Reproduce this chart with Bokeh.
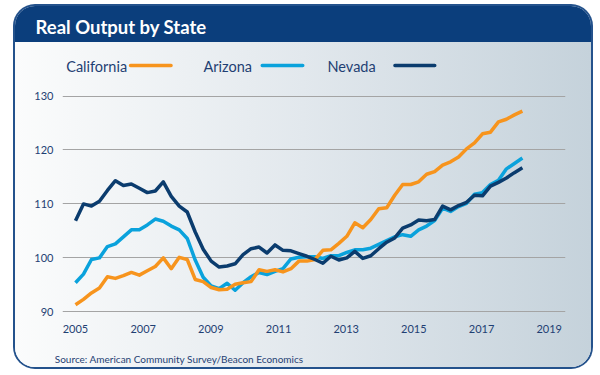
import numpy as np
from bokeh.plotting import figure
from bokeh.models import Label, BoxAnnotation, FixedTicker, Range1d, Title
from bokeh.embed import file_html
from bokeh.resources import INLINE

# ---- data (quarterly index, 2005 Q1 onward) ----
series_names = ["California", "Arizona", "Nevada"]
california = [91.3, 92.3, 93.5, 94.4, 96.5, 96.2, 96.7, 97.3, 96.8, 97.6,
              98.4, 100.0, 98.0, 100.1, 99.7, 96.0, 95.6, 94.5, 94.1, 94.2,
              95.1, 95.4, 95.6, 97.8, 97.5, 97.8, 97.4, 98.0, 99.4, 99.4,
              99.7, 101.4, 101.5, 102.7, 104.0, 106.5, 105.6, 107.1, 109.1, 109.3,
              111.6, 113.6, 113.6, 114.1, 115.5, 116.0, 117.2, 117.8, 118.7, 120.2,
              121.3, 123.0, 123.3, 125.2, 125.7, 126.5, 127.2]
arizona = [95.4, 97.0, 99.7, 100.0, 102.1, 102.6, 103.9, 105.2, 105.2, 106.1,
           107.2, 106.8, 105.9, 105.2, 103.6, 99.6, 96.4, 94.8, 94.3, 95.3,
           94.0, 95.4, 96.5, 97.3, 96.9, 97.5, 98.0, 99.8, 100.1, 100.2,
           100.2, 99.9, 100.4, 100.4, 101.0, 101.5, 101.5, 101.8, 102.5, 103.2,
           103.9, 104.3, 104.0, 105.2, 105.9, 106.9, 109.2, 108.6, 109.5, 110.1,
           111.8, 112.1, 113.6, 114.4, 116.5, 117.5, 118.5]
nevada = [106.9, 110.0, 109.6, 110.5, 112.5, 114.3, 113.4, 113.7, 112.9, 112.1,
          112.4, 114.1, 111.4, 109.6, 108.5, 104.8, 101.6, 99.4, 98.3, 98.5,
          98.9, 100.6, 101.7, 102.0, 100.9, 102.4, 101.4, 101.3, 100.8, 100.3,
          99.7, 99.0, 100.3, 99.6, 100.0, 101.2, 99.9, 100.4, 101.7, 102.9,
          103.7, 105.5, 106.1, 107.0, 106.9, 107.1, 109.6, 108.9, 109.7, 110.3,
          111.6, 111.5, 113.3, 114.0, 114.8, 115.8, 116.7]
year_labels = ["2005", "2007", "2009", "2011", "2013", "2015", "2017", "2019"]
y_ticks = [90, 100, 110, 120, 130]

# ---- styling ----
NAVY_TXT = "#1f3f73"
C_CA = "#f7941d"
C_AZ = "#0aa2dc"
C_NV = "#0b3c6e"

x = np.arange(len(california))
label_step = 8.48  # quarters between printed year labels in the original
x_tick_pos = [round(k * label_step, 3) for k in range(len(year_labels))]

FRAME_BOTTOM = 310  # in figure pixels (figure is 576 x 361)

p = figure(width=576, height=361,
           x_range=Range1d(-1.629, 61.40), y_range=Range1d(89.32, 139.92),
           output_backend="svg", toolbar_location=None,
           min_border_left=47, min_border_right=26,
           min_border_top=36, min_border_bottom=51,
           border_fill_color=None, background_fill_color=None,
           outline_line_color=None)

p.margin = (6, 0, 0, 15)
p.styles = {
    "background": "linear-gradient(#0b3e7c, #0b3e7c) 0 0 / 100% 36px no-repeat, "
                  "linear-gradient(to right, #fbfcfc 0%, #e2e8ed 50%, #c5d2db 100%)",
    "border-radius": "20px",
    "box-shadow": "0 0 0 2px #24528c",
}

# title
p.title.text = "Real Output by State"
p.title.text_color = "white"
p.title.text_font = "Lato"
p.title.text_font_style = "bold"
p.title.text_font_size = "18.5px"
p.title.align = "left"
p.title.offset = -27
p.title.standoff = 10

for ax in (p.xaxis[0], p.yaxis[0]):
    ax.axis_line_color = None
    ax.major_tick_line_color = None
    ax.minor_tick_line_color = None
    ax.major_tick_out = 0
    ax.major_tick_in = 0
    ax.major_label_text_font = "Lato"
    ax.major_label_text_font_size = "11px"
    ax.major_label_text_color = NAVY_TXT

p.yaxis.ticker = FixedTicker(ticks=y_ticks)
p.yaxis.major_label_standoff = 9
p.xaxis.ticker = FixedTicker(ticks=x_tick_pos)
p.xaxis.major_label_overrides = {t: lab for t, lab in zip(x_tick_pos, year_labels)}
p.xaxis.major_label_standoff = 9

p.xgrid.visible = False
p.ygrid.grid_line_color = "#a4a4a4"
p.ygrid.grid_line_width = 1

p.line(x, arizona, line_color=C_AZ, line_width=3.5, line_join="round")
p.line(x, california, line_color=C_CA, line_width=3.5, line_join="round")
p.line(x, nevada, line_color=C_NV, line_width=3.5, line_join="round")

# legend (label first, then swatch) in frame-relative screen units (origin = frame bottom-left)
leg_text_x = [3.7, 141, 265]
leg_sw = [(66.3, 110.3), (198, 242), (330.7, 374)]
for name, col, tx, (l, r) in zip(series_names, [C_CA, C_AZ, C_NV], leg_text_x, leg_sw):
    p.add_layout(Label(x=tx, y=FRAME_BOTTOM - 60.5, x_units="screen", y_units="screen",
                       text=name, text_color=NAVY_TXT, text_font="Lato",
                       text_font_size="14.5px", text_baseline="middle"))
    p.add_layout(BoxAnnotation(left=l, right=r, top=FRAME_BOTTOM - 58.3, bottom=FRAME_BOTTOM - 61.7,
                               left_units="screen", right_units="screen",
                               top_units="screen", bottom_units="screen",
                               fill_color=col, fill_alpha=1, line_color=None,
                               border_radius=2))

# spacer between the axis labels and the source note
p.add_layout(Title(text=" ", standoff=9, text_font_size="1px"), "below")
# source note
p.add_layout(Title(text="Source: American Community Survey/Beacon Economics",
                   align="left", offset=-7.7, standoff=6, vertical_align="bottom",
                   text_color=NAVY_TXT, text_font="Lato", text_font_style="normal",
                   text_font_size="10px"), "below")

open("out.html", "w").write(file_html(p, INLINE))
